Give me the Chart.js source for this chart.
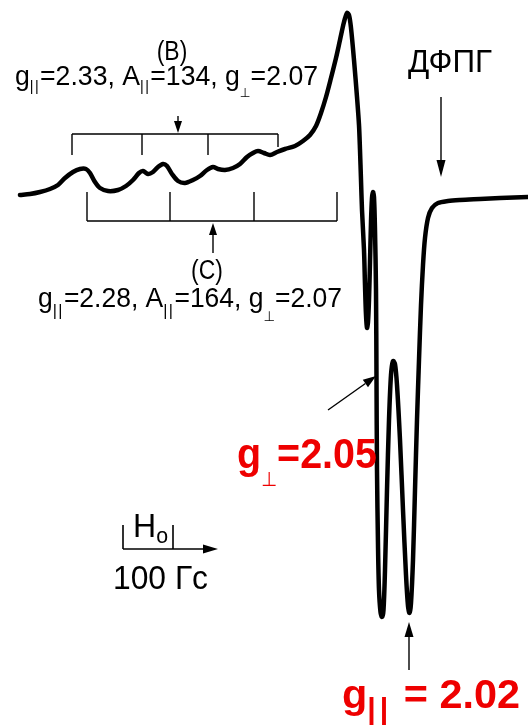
<!DOCTYPE html>
<html>
<head>
<meta charset="utf-8">
<script src="https://cdn.jsdelivr.net/npm/chart.js@4/dist/chart.umd.min.js"></script>
<style>
  html, body { margin: 0; padding: 0; background: #fff; }
  #wrap { position: relative; width: 528px; height: 728px; }
</style>
</head>
<body>
<div id="wrap"><canvas id="c"></canvas></div>
<script>
// EPR spectrum: magnetic field H (G) and first-derivative signal (a.u.)
const fieldG = [
  2540, 2560, 2580, 2600, 2616, 2630, 2646, 2660, 2672, 2680,
  2690, 2700, 2716, 2736, 2752, 2766, 2778, 2786, 2796, 2806,
  2816, 2826, 2834, 2844, 2856, 2870, 2886, 2900, 2914, 2926,
  2936, 2950, 2966, 2980, 2994, 3006, 3016, 3028, 3040, 3054,
  3070, 3090, 3106, 3120, 3132, 3142, 3152, 3162, 3172, 3180,
  3188, 3194, 3198, 3202, 3208, 3214, 3218, 3220, 3222, 3224,
  3228, 3230, 3232, 3234, 3236, 3238, 3240, 3242, 3244, 3246,
  3248, 3250, 3252, 3253, 3254, 3256, 3258, 3261, 3264, 3267,
  3270, 3274, 3278, 3282, 3286, 3290, 3294, 3300, 3306, 3312,
  3316, 3319, 3322, 3326, 3330, 3334, 3338, 3342, 3346, 3350,
  3356, 3364, 3376, 3396, 3420, 3460, 3500, 3556
];
const signal = [
  2, 3, 5, 8, 12, 19, 25, 28, 28, 24,
  15, 9, 6, 7, 11, 17, 24, 26, 23, 25,
  30, 33, 31, 23, 16, 14, 17, 21, 27, 30,
  28, 27, 29, 33, 40, 44, 46, 44, 42, 45,
  48, 51, 56, 62, 71, 84, 100, 119, 139, 157,
  175, 184, 182, 169, 137, 100, 72, 47, 17, -13,
  -53, -88, -118, -131, -125, -103, -65, -25, -1, 5,
  0, -33, -93, -183, -273, -348, -393, -415, -420, -413,
  -373, -293, -223, -178, -164, -167, -188, -243, -313, -378,
  -409, -416, -406, -363, -293, -223, -163, -108, -68, -41,
  -21, -11, -6, -4, -3, -2, -1, 0
];

// Hyperfine line positions (G) of the two Cu(II) centres
const siteB = [2644, 2784, 2916, 3056];
const siteC = [2674, 2840, 3008, 3174];

// Marker positions (G)
const dpphField = 3382;
const gPerpField = 3252;
const gParField = 3318;
const scaleStart = 2746;   // field-scale bar start
const scaleStep = 100;     // G

const FAM = '"Liberation Sans", Arial, "DejaVu Sans", sans-serif';
const RED = 'rgb(238,0,0)';

function arrow(ctx, x0, y0, x1, y1, len, half, lw) {
  const a = Math.atan2(y1 - y0, x1 - x0);
  const bx = x1 - len * Math.cos(a), by = y1 - len * Math.sin(a);
  ctx.lineWidth = lw;
  ctx.beginPath(); ctx.moveTo(x0, y0); ctx.lineTo(bx, by); ctx.stroke();
  ctx.beginPath();
  ctx.moveTo(x1, y1);
  ctx.lineTo(bx + half * Math.sin(a), by - half * Math.cos(a));
  ctx.lineTo(bx - half * Math.sin(a), by + half * Math.cos(a));
  ctx.closePath(); ctx.fill();
}

// parts: [text, fontSize, dy, bold, letterSpacing]; squeezed to fit x0..x1
function rich(ctx, parts, x0, x1, base, color) {
  const font = p => (p[3] ? 'bold ' : '') + p[1] + 'px ' + FAM;
  let w = 0;
  const widths = parts.map(p => {
    ctx.font = font(p);
    ctx.letterSpacing = (p[4] || 0) + 'px';
    const m = ctx.measureText(p[0]).width;
    w += m; return m;
  });
  const sx = (x1 - x0) / w;
  ctx.save();
  ctx.fillStyle = color;
  ctx.textBaseline = 'alphabetic';
  ctx.textAlign = 'left';
  ctx.translate(x0, base);
  ctx.scale(sx, 1);
  let x = 0;
  parts.forEach((p, i) => {
    ctx.font = font(p);
    ctx.letterSpacing = (p[4] || 0) + 'px';
    ctx.fillText(p[0], x, p[2]);
    x += widths[i];
  });
  ctx.restore();
  ctx.letterSpacing = '0px';
}

const notes = {
  id: 'notes',
  afterDatasetsDraw(chart) {
    const ctx = chart.ctx;
    const xs = chart.scales.x, ys = chart.scales.y;
    const X = v => xs.getPixelForValue(v);
    const Y = v => ys.getPixelForValue(v);
    ctx.save();
    ctx.strokeStyle = '#000';
    ctx.fillStyle = '#000';
    ctx.lineCap = 'butt';

    // stick diagram B (above the curve)
    ctx.lineWidth = 1.4;
    ctx.beginPath();
    ctx.moveTo(X(siteB[0]), Y(63)); ctx.lineTo(X(siteB[3]), Y(63));
    siteB.forEach((g, i) => {
      ctx.moveTo(X(g), Y(63)); ctx.lineTo(X(g), Y(i === 3 ? 50 : 42));
    });
    ctx.stroke();
    arrow(ctx, X(2856), Y(81), X(2856), Y(64), 12, 4, 1.4);

    // stick diagram C (below the curve)
    ctx.beginPath();
    ctx.moveTo(X(siteC[0]), Y(-24)); ctx.lineTo(X(siteC[3]), Y(-24));
    siteC.forEach(g => { ctx.moveTo(X(g), Y(-24)); ctx.lineTo(X(g), Y(5)); });
    ctx.stroke();
    arrow(ctx, X(2926), Y(-56), X(2926), Y(-26), 12, 4, 1.4);

    // labels for B and C
    ctx.font = '27px ' + FAM;
    ctx.textAlign = 'center';
    ctx.textBaseline = 'alphabetic';
    ctx.save(); ctx.translate(X(2844), Y(137)); ctx.scale(0.85, 1); ctx.fillText('(B)', 0, 0); ctx.restore();
    ctx.save(); ctx.translate(X(2914), Y(-82)); ctx.scale(0.85, 1); ctx.fillText('(C)', 0, 0); ctx.restore();

    rich(ctx, [['g', 28, 0], ['||', 15, 6, false, 1.5], ['=2.33, A', 28, 0], ['||', 15, 6, false, 1.5],
               ['=134, g', 28, 0], ['\u22A5', 13, 12], ['=2.07', 28, 0]],
         X(2530), X(3136), Y(112), '#000');
    rich(ctx, [['g', 28, 0], ['||', 17, 9, false, 1.5], ['=2.28, A', 28, 0], ['||', 17, 9, false, 1.5],
               ['=164, g', 28, 0], ['\u22A5', 14, 14], ['=2.07', 28, 0]],
         X(2576), X(3184), Y(-110), '#000');

    // DPPH reference
    rich(ctx, [['ДФПГ', 31, 0]], X(3316), X(3484), Y(125), '#000');
    arrow(ctx, X(dpphField), Y(100), X(dpphField), Y(20), 17, 4.5, 1.4);

    // g-perpendicular marker
    ctx.fillStyle = '#000';
    arrow(ctx, X(3156), Y(-213), X(gPerpField), Y(-179), 13, 4.5, 1.4);
    rich(ctx, [['g', 43, 0, true], ['\u22A5', 20, 18], ['=2.05', 43, 0, true]],
         X(2974), X(3254), Y(-271), RED);

    // g-parallel marker
    arrow(ctx, X(gParField), Y(-473), X(gParField), Y(-425), 15, 4.5, 1.4);
    rich(ctx, [['g', 41, 0, true], ['||', 30, 11, true, 4], [' = 2.02', 41, 0, true]],
         X(3184), X(3540), Y(-511), RED);

    // field scale bar
    ctx.fillStyle = '#000';
    ctx.lineWidth = 1.6;
    ctx.beginPath();
    ctx.moveTo(X(scaleStart), Y(-328)); ctx.lineTo(X(scaleStart), Y(-352));
    ctx.moveTo(X(scaleStart + scaleStep), Y(-328)); ctx.lineTo(X(scaleStart + scaleStep), Y(-352));
    ctx.stroke();
    arrow(ctx, X(scaleStart), Y(-352), X(2936), Y(-352), 15, 4.5, 1.6);
    rich(ctx, [['H', 33, 0], ['o', 22, 6]], X(2766), X(2836), Y(-340), '#000');
    rich(ctx, [['100 Гс', 33, 0]], X(2726), X(2916), Y(-392), '#000');

    ctx.restore();
  }
};

new Chart(document.getElementById('c'), {
  type: 'line',
  data: {
    datasets: [{
      data: fieldG.map((h, i) => ({ x: h, y: signal[i] })),
      borderColor: '#000',
      borderWidth: 4.5,
      pointRadius: 0,
      tension: 0.3,
      fill: false,
      borderCapStyle: 'round',
      borderJoinStyle: 'round'
    }]
  },
  options: {
    responsive: true,
    maintainAspectRatio: false,
    animation: false,
    layout: { padding: 0 },
    plugins: { legend: { display: false }, tooltip: { enabled: false } },
    scales: {
      x: { type: 'linear', min: 2500, max: 3556, display: false },
      y: { type: 'linear', min: -531, max: 197, display: false }
    }
  },
  plugins: [notes]
});
</script>
</body>
</html>
